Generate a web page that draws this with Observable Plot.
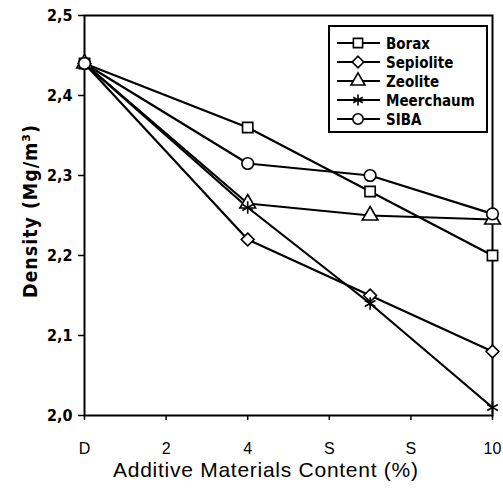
<!DOCTYPE html>
<html>
<head>
<meta charset="utf-8">
<script src="https://cdn.jsdelivr.net/npm/d3@7"></script>
<script src="https://cdn.jsdelivr.net/npm/@observablehq/plot@0.6"></script>
<style>
  html, body { margin: 0; padding: 0; background: #fff; }
  #chart { width: 503px; height: 489px; }
</style>
</head>
<body>
<div id="chart"></div>
<script>
// ---- data ----
const xValues = [0, 4, 7, 10];
const seriesNames = ["Borax", "Sepiolite", "Zeolite", "Meerchaum", "SIBA"];
const seriesSymbols = ["square", "diamond2", "triangle", "asterisk", "circle"];
const borax     = [2.44, 2.36, 2.28, 2.20];
const sepiolite = [2.44, 2.22, 2.15, 2.08];
const zeolite   = [2.44, 2.265, 2.25, 2.245];
const meerchaum = [2.44, 2.26, 2.14, 2.01];
const siba      = [2.44, 2.315, 2.30, 2.252];
const xTicks = [0, 2, 4, 6, 8, 10];
const xTickLabels = ["D", "2", "4", "S", "S", "10"];
const yTicks = [2.0, 2.1, 2.2, 2.3, 2.4, 2.5];
const yTickLabels = ["2,0", "2,1", "2,2", "2,3", "2,4", "2,5"];
const xTitle = "Additive Materials Content (%)";
const yTitle = "Density (Mg/m³)";

const seriesValues = [borax, sepiolite, zeolite, meerchaum, siba];
const rows = [];
seriesNames.forEach((s, si) => {
  xValues.forEach((xv, i) => rows.push({series: s, x: xv, y: seriesValues[si][i]}));
});

const boldFont = "'DejaVu Sans Condensed','DejaVu Sans',sans-serif";
const regFont = "'Liberation Sans',Arial,sans-serif";

const W = 503, H = 489;
const mL = 84, mR = 11, mT = 15, mB = 74;

const idx = (arr, d) => arr.reduce((b, v, i) => Math.abs(v - d) < Math.abs(arr[b] - d) ? i : b, 0);

const chart = Plot.plot({
  width: W,
  height: H,
  marginLeft: mL,
  marginRight: mR,
  marginTop: mT,
  marginBottom: mB,
  style: {background: "white", color: "black", overflow: "visible"},
  x: {domain: [0, 10]},
  y: {domain: [2.0, 2.5]},
  symbol: {domain: seriesNames, range: seriesSymbols},
  marks: [
    Plot.axisY({
      ticks: yTicks,
      tickFormat: d => yTickLabels[idx(yTicks, d)],
      tickSize: 6,
      tickPadding: 6,
      strokeWidth: 1.5,
      fontSize: 16,
      fontWeight: "bold",
      fontFamily: boldFont,
      fontStretch: "condensed",
      label: null
    }),
    Plot.axisX({
      ticks: xTicks,
      tickFormat: d => xTickLabels[idx(xTicks, d)],
      tickSize: 5,
      tickPadding: 22,
      strokeWidth: 1.5,
      fontSize: 16,
      fontFamily: regFont,
      label: null
    }),
    Plot.frame({stroke: "black", strokeWidth: 2}),
    Plot.line(rows, {x: "x", y: "y", z: "series", stroke: "black", strokeWidth: 2.2}),
    Plot.dot(rows, {x: "x", y: "y", symbol: "series", r: 5.8, fill: "white", stroke: "black", strokeWidth: 1.6})
  ]
});

document.getElementById("chart").appendChild(chart);

// titles and legend
const svg = d3.select(chart);
svg.append("text")
  .attr("x", 113)
  .attr("y", 477)
  .attr("text-anchor", "start")
  .attr("font-family", regFont)
  .attr("font-size", 21)
  .attr("textLength", 305)
  .attr("lengthAdjust", "spacing")
  .attr("fill", "black")
  .text(xTitle);

svg.append("text")
  .attr("transform", `translate(37,298) rotate(-90)`)
  .attr("text-anchor", "start")
  .attr("font-family", boldFont)
  .attr("font-weight", "bold")
  .attr("font-stretch", "condensed")
  .attr("font-size", 19.5)
  .attr("textLength", 173)
  .attr("lengthAdjust", "spacing")
  .attr("fill", "black")
  .text(yTitle);

const lg = svg.append("g");
lg.append("rect")
  .attr("x", 329).attr("y", 26).attr("width", 158).attr("height", 106)
  .attr("fill", "white").attr("stroke", "black").attr("stroke-width", 2);
const symMap = {square: d3.symbolSquare, diamond2: d3.symbolDiamond2, triangle: d3.symbolTriangle, asterisk: d3.symbolAsterisk, circle: d3.symbolCircle};
seriesNames.forEach((s, i) => {
  const yy = 43 + i * 19;
  lg.append("line").attr("x1", 337).attr("x2", 380).attr("y1", yy).attr("y2", yy)
    .attr("stroke", "black").attr("stroke-width", 2);
  lg.append("path")
    .attr("d", d3.symbol(symMap[seriesSymbols[i]], 5.2 * 5.2 * Math.PI)())
    .attr("transform", `translate(358,${yy})`)
    .attr("fill", "white").attr("stroke", "black").attr("stroke-width", 1.6);
  lg.append("text").attr("x", 386).attr("y", yy + 5.5)
    .attr("text-anchor", "start")
    .attr("font-family", boldFont).attr("font-weight", "bold").attr("font-stretch", "condensed")
    .attr("font-size", 15)
    .attr("fill", "black").text(s);
});
</script>
</body>
</html>
